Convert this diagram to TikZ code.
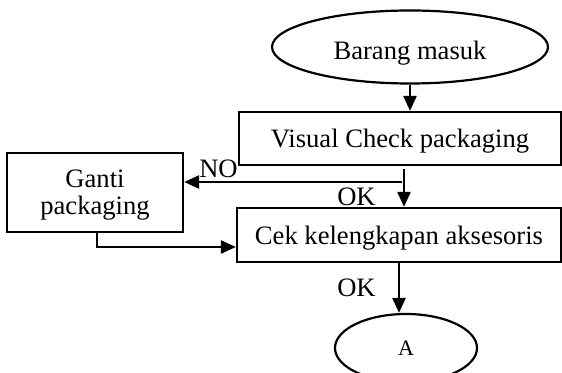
\documentclass[tikz,border=0pt]{standalone}
\usepackage{fontspec}
\setmainfont{Liberation Serif}
\usetikzlibrary{shapes,positioning,arrows.meta,calc}

\begin{document}
\begin{tikzpicture}[x=0.5pt,y=-0.5pt]

	\tikzstyle{stdrect}=[draw, rectangle, line width=1.1pt, inner sep=0pt, text depth=0pt, font=\fontsize{13.3}{13.5}\selectfont];
	\tikzstyle{stdoval}=[draw, ellipse, line width=1.1pt, inner sep=0pt, text depth=0pt];
	\tikzstyle{flowlbl}=[anchor=base, inner sep=0pt, font=\fontsize{13.3}{13.5}\selectfont];
	\useasboundingbox (0,0) rectangle (562,373);
    \begin{scope}[>={Triangle[length=7.5pt,width=6.5pt]}, line width=1.2pt]

    	\node (barang) at (410,47) [stdoval, minimum width=138pt, minimum height=36.5pt, text height=12.5pt, font=\fontsize{13.3}{13.5}\selectfont]{Barang masuk};
    	\node (visual) at (400,138.5) [stdrect, minimum width=161pt, minimum height=26.5pt]{Visual Check packaging};
    	\node (ganti) at (95,192.5) [stdrect, align=center, minimum width=88pt, minimum height=39.5pt]{Ganti\\packaging};
    	\node (cek) at (399,235) [stdrect, minimum width=162pt, minimum height=27pt]{Cek kelengkapan aksesoris};
    	\node (konektor_a) at (406,348) [stdoval, minimum width=71pt, minimum height=34pt, font=\fontsize{11}{12}\selectfont]{A};

    	\node (no_lbl) at (218.5,178) [flowlbl]{NO};
    	\node (ok_atas) at (356.5,206) [flowlbl]{OK};
    	\node (ok_bawah) at (356.5,297) [flowlbl]{OK};

    	\coordinate (no_branch) at (402,182);
    	\draw[->] (barang.south) -- (barang.south |- visual.north);
    	\draw[->] (no_branch) -- (no_branch -| ganti.east);
    	\draw[->] ([xshift=2pt,yshift=-1.5pt]visual.south) -- ([xshift=2pt]visual.south |- cek.north);
    	\draw[->] ([xshift=1pt]ganti.south) |- ([yshift=-6pt]cek.west);
    	\draw[->] (cek.south) -- (cek.south |- konektor_a.north);

    \end{scope}
\end{tikzpicture}
\end{document}
